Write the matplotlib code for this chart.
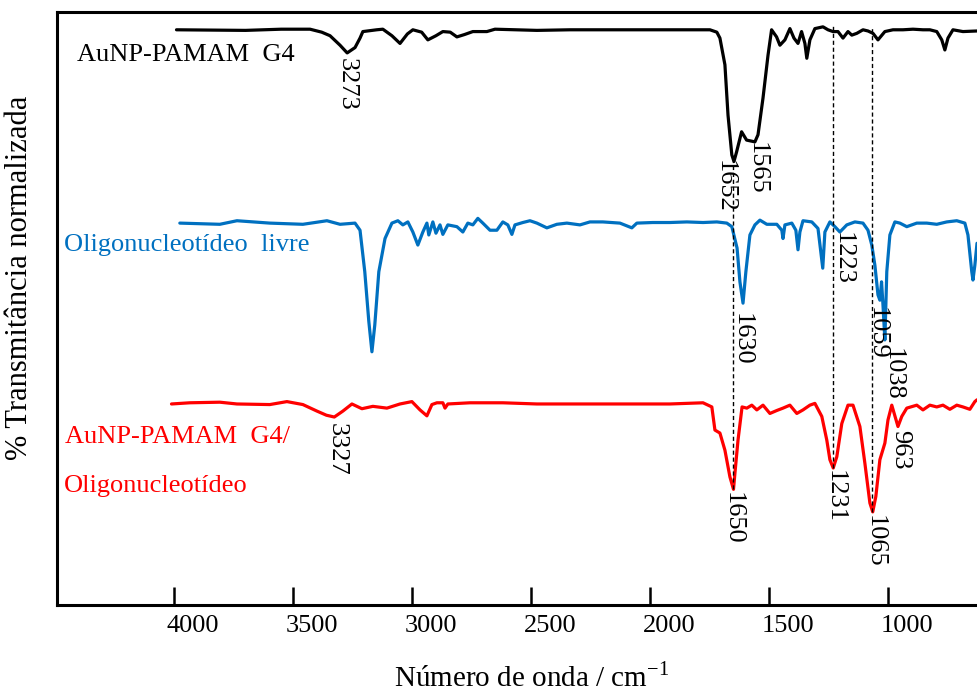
import matplotlib
matplotlib.use("Agg")
import matplotlib.pyplot as plt
import matplotlib.transforms as mtransforms

plt.rcParams["font.family"] = ["Liberation Serif", "DejaVu Serif"]
plt.rcParams["mathtext.fontset"] = "custom"
plt.rcParams["mathtext.rm"] = "Liberation Serif"

# espectros (número de onda, transmitância normalizada + deslocamento)
black_wn = [3990, 3700, 3550, 3429, 3380, 3345, 3303, 3273, 3240, 3219, 3207, 3149, 3123, 3085,
            3051, 3020, 2997, 2960, 2934, 2900, 2871, 2840, 2812, 2780, 2745, 2686, 2652, 2476,
            2337, 2199, 1950, 1749, 1720, 1707, 1686, 1673, 1657, 1648, 1637, 1616, 1595, 1560,
            1547, 1526, 1505, 1490, 1469, 1455, 1434, 1413, 1396, 1379, 1364, 1350, 1342, 1329,
            1308, 1274, 1253, 1232, 1211, 1190, 1169, 1153, 1132, 1106, 1085, 1064, 1043, 1014,
            980, 938, 896, 854, 825, 796, 775, 762, 749, 728, 686, 627]
black_t = [97.0, 96.9, 97.1, 97.1, 96.6, 96.0, 94.4, 93.1, 94.0, 95.6, 96.7, 97.0, 97.1, 96.0,
           94.7, 96.3, 97.0, 96.6, 95.3, 96.0, 96.7, 96.6, 95.8, 96.2, 96.7, 96.7, 97.1, 96.9,
           97.0, 97.0, 97.0, 97.0, 96.6, 95.6, 91.1, 82.6, 75.9, 74.8, 76.4, 79.8, 78.4, 78.1,
           79.3, 85.5, 92.7, 97.0, 95.8, 94.4, 95.3, 97.2, 95.6, 94.7, 96.7, 94.7, 92.2, 95.3,
           97.2, 97.5, 97.0, 96.7, 96.7, 95.6, 96.7, 96.1, 96.4, 97.0, 96.8, 96.4, 95.3, 96.7,
           97.0, 97.0, 97.1, 97.0, 97.0, 96.7, 95.3, 93.6, 95.6, 97.0, 96.7, 96.8]

blue_wn = [3976, 3808, 3736, 3598, 3459, 3358, 3303, 3240, 3219, 3199, 3182, 3169, 3157, 3140,
           3114, 3085, 3060, 3039, 3018, 2997, 2976, 2955, 2938, 2930, 2913, 2900, 2883, 2871,
           2850, 2812, 2787, 2766, 2745, 2724, 2703, 2673, 2644, 2619, 2598, 2581, 2568, 2535,
           2505, 2476, 2434, 2392, 2350, 2295, 2253, 2199, 2127, 2077, 2056, 1989, 1917, 1846,
           1778, 1720, 1678, 1657, 1635, 1623, 1610, 1598, 1581, 1560, 1539, 1510, 1468, 1447,
           1442, 1434, 1405, 1388, 1379, 1371, 1358, 1321, 1295, 1275, 1266, 1245, 1224, 1203,
           1174, 1140, 1106, 1085, 1069, 1056, 1043, 1035, 1028, 1022, 1014, 1006, 993, 972,
           951, 922, 880, 838, 796, 754, 712, 678, 665, 649, 644, 636, 627]
blue_t = [64.4, 64.2, 64.8, 64.4, 64.2, 64.8, 64.2, 64.4, 63.2, 56.2, 47.8, 42.7, 47.2, 56.2,
          61.8, 64.4, 64.8, 64.1, 64.6, 62.9, 60.7, 62.9, 64.4, 62.4, 64.6, 62.7, 64.1, 62.5,
          64.1, 63.8, 62.9, 64.4, 64.1, 65.2, 64.4, 63.2, 63.2, 64.6, 64.1, 62.5, 64.1, 64.5,
          64.8, 64.4, 63.6, 64.2, 64.4, 64.1, 64.6, 64.6, 64.4, 63.6, 64.4, 64.5, 64.5, 64.6,
          64.5, 64.6, 64.4, 63.8, 60.2, 54.5, 50.9, 56.2, 62.4, 64.1, 64.9, 64.2, 64.2, 63.2,
          61.8, 64.1, 64.4, 63.2, 59.9, 62.9, 64.8, 64.6, 63.5, 56.8, 62.9, 64.6, 63.8, 62.9,
          64.1, 64.6, 64.4, 63.2, 60.7, 57.3, 52.3, 51.4, 54.5, 50.6, 44.7, 56.2, 62.4, 64.6,
          64.4, 63.8, 64.4, 64.4, 64.2, 64.6, 64.8, 64.4, 62.4, 56.2, 54.8, 57.3, 61.0]

red_wn = [4011, 3934, 3808, 3736, 3598, 3526, 3459, 3400, 3360, 3327, 3291, 3253, 3211, 3165,
          3106, 3051, 3001, 2967, 2938, 2917, 2896, 2871, 2862, 2850, 2757, 2619, 2476, 2337,
          2199, 2056, 1917, 1778, 1741, 1728, 1707, 1686, 1665, 1650, 1644, 1631, 1614, 1594,
          1573, 1552, 1526, 1497, 1468, 1442, 1413, 1384, 1358, 1329, 1308, 1279, 1258, 1245,
          1231, 1216, 1195, 1169, 1148, 1119, 1098, 1077, 1065, 1052, 1035, 1014, 1001, 985,
          959, 943, 922, 880, 854, 825, 796, 770, 741, 712, 686, 657, 636, 627]
red_t = [33.9, 34.1, 34.2, 33.9, 33.8, 34.3, 33.8, 32.7, 32.0, 31.7, 32.7, 33.9, 33.1, 33.5,
         33.2, 33.9, 34.3, 32.9, 31.9, 33.8, 34.1, 34.1, 33.2, 33.9, 34.1, 34.1, 33.9, 33.9,
         33.9, 33.9, 33.9, 34.1, 33.4, 29.5, 29.0, 26.1, 21.6, 19.5, 22.2, 27.8, 33.4, 33.2,
         33.7, 32.9, 33.7, 32.3, 32.8, 33.2, 33.7, 32.3, 32.9, 33.7, 34.0, 31.8, 27.8, 24.5,
         23.1, 25.0, 30.6, 33.7, 33.7, 30.1, 23.9, 17.2, 15.7, 18.3, 24.5, 27.3, 31.2, 33.7,
         30.1, 31.8, 33.2, 33.7, 32.9, 33.7, 33.4, 33.7, 33.0, 33.7, 33.4, 33.0, 34.3, 34.6]

# rótulos dos picos: (número de onda, topo do texto, texto)
peak_wn = [3274, 1686, 1551, 1614, 1190, 1047, 980, 3316, 1652, 1224, 1055, 950]
peak_y = [92.2, 75.0, 78.1, 49.2, 62.9, 50.3, 43.3, 30.7, 19.1, 22.8, 15.2, 29.5]
peak_txt = ["3273", "1652", "1565", "1630", "1223", "1059", "1038", "3327", "1650", "1231", "1065", "963"]

# linhas tracejadas
dash_wn = [1652, 1232, 1068]
dash_top = [74.8, 97.6, 97.6]
dash_bottom = [19.5, 23.1, 15.7]

xticks = [4000, 3500, 3000, 2500, 2000, 1500, 1000]

fig = plt.figure(figsize=(9.77, 6.92), dpi=100)
ax = fig.add_axes([57 / 977, 87 / 692, 920 / 977, 593 / 692])

lw = 2.3
for wn, t, c in [(black_wn, black_t, "black"), (blue_wn, blue_t, "#0070C0"), (red_wn, red_t, "#FF0000")]:
    ax.plot(wn, t, color=c, lw=lw, solid_joinstyle="round", solid_capstyle="round")

for x, y0, y1 in zip(dash_wn, dash_bottom, dash_top):
    ax.plot([x, x], [y0, y1], color="black", lw=1.0, ls=(0, (3, 2)))

for x, y, t in zip(peak_wn, peak_y, peak_txt):
    ax.text(x, y, t, rotation=270, ha="center", va="top", fontsize=19)

ax.text(4408, 92.7, "AuNP-PAMAM  G4", color="black", fontsize=19, va="center")
ax.text(4463, 60.7, "Oligonucleotídeo  livre", color="#0070C0", fontsize=19, va="center")
ax.text(4458, 28.3, "AuNP-PAMAM  G4/", color="#FF0000", fontsize=19, va="center")
ax.text(4463, 20.1, "Oligonucleotídeo", color="#FF0000", fontsize=19, va="center")

ax.set_xlim(4492, 627)
ax.set_ylim(0, 100)
ax.set_xticks(xticks)
ax.set_yticks([])
ax.tick_params(axis="x", direction="in", length=13, width=1.8, labelsize=19, pad=7)
offset = mtransforms.ScaledTranslation(0.19, 0, fig.dpi_scale_trans)
for lab in ax.get_xticklabels():
    lab.set_transform(lab.get_transform() + offset)

for side in ["left", "top", "bottom"]:
    ax.spines[side].set_linewidth(2.2)
ax.spines["right"].set_visible(False)

ax.set_xlabel("Número de onda / cm$^{\\mathregular{-1}}$", fontsize=21)
ax.xaxis.label.set_va("baseline")
ax.xaxis.set_label_coords(475 / 920, -81 / 593)
ax.set_ylabel("% Transmitância normalizada", fontsize=22)
ax.yaxis.label.set_va("center")
ax.yaxis.set_label_coords(-37 / 920, 327 / 593)

fig.savefig("out.png", dpi=100)
